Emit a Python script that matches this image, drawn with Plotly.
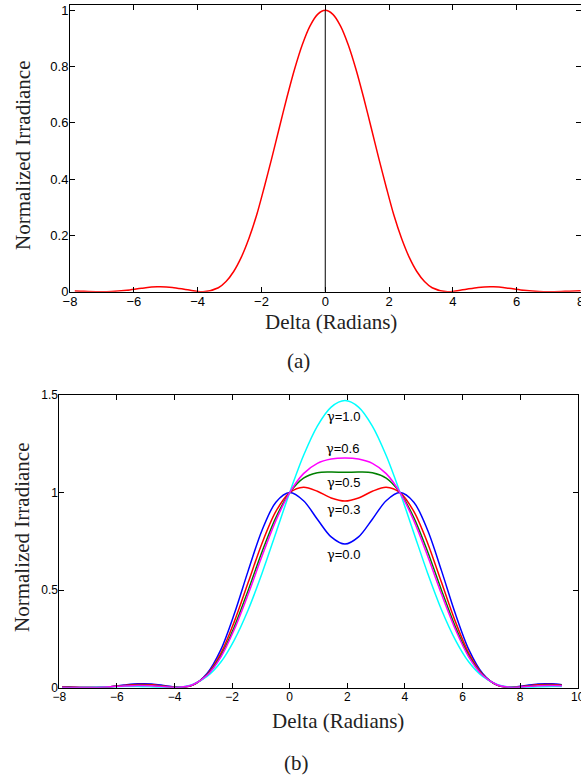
import plotly.graph_objects as go

W, H = 581, 779

# ---- (a) single-aperture irradiance pattern ----
delta_a = [-7.85, -7.66, -7.18, -6.70, -6.22, -5.75, -5.27, -4.79, -4.31, -3.83,
           -3.35, -3.11, -2.87, -2.63, -2.39, -2.15, -1.92, -1.68, -1.44, -1.20,
           -0.96, -0.72, -0.48, -0.24, 0.0,
           0.24, 0.48, 0.72, 0.96, 1.20, 1.44, 1.68, 1.92, 2.15, 2.39,
           2.63, 2.87, 3.11, 3.35, 3.83, 4.31, 4.79,
           5.27, 5.75, 6.22, 6.70, 7.18, 7.66, 8.14]
irr_a = [0.0028, 0.0020, 0.0002, 0.0008, 0.0053, 0.0123, 0.0172, 0.0153, 0.0066, 0.0000,
         0.0142, 0.0363, 0.0719, 0.1228, 0.1899, 0.2723, 0.3679, 0.4730, 0.5828, 0.6911,
         0.7916, 0.8778, 0.9441, 0.9858, 1.0000,
         0.9858, 0.9441, 0.8778, 0.7916, 0.6911, 0.5828, 0.4730, 0.3679, 0.2723, 0.1899,
         0.1228, 0.0719, 0.0363, 0.0142, 0.0000, 0.0066, 0.0153,
         0.0172, 0.0123, 0.0053, 0.0008, 0.0002, 0.0020, 0.0038]
center_x = [0, 0]
center_y = [0, 1]

# ---- (b) two-point pattern for several coherence values ----
delta_b = [-7.90, -7.66, -7.18, -6.70, -6.22, -5.75, -5.27, -4.79, -4.31, -3.83,
           -3.35, -2.87, -2.39, -1.92, -1.44, -0.96, -0.48, 0.0,
           0.48, 0.96, 1.44, 1.92, 2.39, 2.87, 3.35, 3.83, 4.31, 4.79,
           5.27, 5.75, 6.22, 6.70, 7.18, 7.66, 8.14, 8.62, 9.10, 9.45]
irr_g00 = [0.0044, 0.0036, 0.0012, 0.0011, 0.0053, 0.0132, 0.0198, 0.0193, 0.0104, 0.0020,
           0.0144, 0.0727, 0.1952, 0.3802, 0.6000, 0.8069, 0.9506, 1.0000,
           0.9582, 0.8634, 0.7726, 0.7358, 0.7726, 0.8634, 0.9582, 1.0000, 0.9506, 0.8069,
           0.6000, 0.3802, 0.1952, 0.0727, 0.0144, 0.0020, 0.0104, 0.0193, 0.0198, 0.0149]
irr_g03 = [0.0032, 0.0025, 0.0010, 0.0013, 0.0051, 0.0112, 0.0158, 0.0146, 0.0074, 0.0020,
           0.0153, 0.0682, 0.1761, 0.3398, 0.5399, 0.7408, 0.9034, 1.0000,
           1.0276, 1.0066, 0.9722, 0.9565, 0.9722, 1.0066, 1.0276, 1.0000, 0.9034, 0.7408,
           0.5399, 0.3398, 0.1761, 0.0682, 0.0153, 0.0020, 0.0074, 0.0146, 0.0158, 0.0124]
irr_g05 = [0.0024, 0.0018, 0.0008, 0.0015, 0.0049, 0.0099, 0.0131, 0.0115, 0.0054, 0.0020,
           0.0160, 0.0651, 0.1634, 0.3129, 0.4998, 0.6968, 0.8719, 1.0000,
           1.0739, 1.1020, 1.1053, 1.1036, 1.1053, 1.1020, 1.0739, 1.0000, 0.8719, 0.6968,
           0.4998, 0.3129, 0.1634, 0.0651, 0.0160, 0.0020, 0.0054, 0.0115, 0.0131, 0.0107]
irr_g06 = [0.0020, 0.0015, 0.0007, 0.0016, 0.0048, 0.0092, 0.0118, 0.0099, 0.0044, 0.0020,
           0.0163, 0.0636, 0.1571, 0.2994, 0.4798, 0.6748, 0.8562, 1.0000,
           1.0970, 1.1497, 1.1718, 1.1772, 1.1718, 1.1497, 1.0970, 1.0000, 0.8562, 0.6748,
           0.4798, 0.2994, 0.1571, 0.0636, 0.0163, 0.0020, 0.0044, 0.0099, 0.0118, 0.0099]
irr_g10 = [0.0003, 0.0000, 0.0004, 0.0020, 0.0045, 0.0065, 0.0064, 0.0037, 0.0004, 0.0021,
           0.0176, 0.0576, 0.1317, 0.2456, 0.3996, 0.5867, 0.7932, 1.0008,
           1.1896, 1.3405, 1.4379, 1.4715, 1.4379, 1.3405, 1.1896, 1.0008, 0.7932, 0.5867,
           0.3996, 0.2456, 0.1317, 0.0576, 0.0176, 0.0021, 0.0004, 0.0037, 0.0064, 0.0065]

gamma_values = ["1.0", "0.6", "0.5", "0.3", "0.0"]
gamma_label_x = [1.88, 1.85, 1.88, 1.88, 1.88]
gamma_label_y = [1.389, 1.227, 1.051, 0.915, 0.684]

series_b = [
    (irr_g00, "#0000ff"),
    (irr_g03, "#ff0000"),
    (irr_g05, "#008000"),
    (irr_g10, "#00ffff"),
    (irr_g06, "#ff00ff"),
]


def px_x(p):
    return p / W


def px_y(p):
    return 1 - p / H


fig = go.Figure()

fig.add_trace(go.Scatter(x=delta_a, y=irr_a, mode="lines",
                         line=dict(color="#ff0000", width=1.5, shape="spline", smoothing=0.8),
                         xaxis="x", yaxis="y", showlegend=False))
fig.add_trace(go.Scatter(x=center_x, y=center_y, mode="lines", line=dict(color="black", width=1),
                         xaxis="x", yaxis="y", showlegend=False))

for ys, col in series_b:
    fig.add_trace(go.Scatter(x=delta_b, y=ys, mode="lines",
                             line=dict(color=col, width=1.5, shape="spline", smoothing=0.9),
                             xaxis="x2", yaxis="y2", showlegend=False))


def axis_style(size, standoff):
    return dict(showline=True, linecolor="black", linewidth=1, mirror="allticks",
                ticks="inside", ticklen=5, tickcolor="black", tickwidth=1,
                showgrid=False, zeroline=False, ticklabeloverflow="allow",
                ticklabelstandoff=standoff, automargin=False,
                tickfont=dict(family="Liberation Sans, Arial, sans-serif", size=size, color="black"))


fig.update_layout(
    width=W, height=H,
    margin=dict(l=0, r=0, t=0, b=0),
    paper_bgcolor="white", plot_bgcolor="white",
    xaxis=dict(domain=[px_x(70), px_x(580.5)], range=[-8, 8], tickvals=list(range(-8, 9, 2)),
               anchor="y", **axis_style(13, -2)),
    yaxis=dict(domain=[px_y(291.7), px_y(5.3)], range=[0, 1.018], tickvals=[0, 0.2, 0.4, 0.6, 0.8, 1],
               anchor="x", **axis_style(13, -2)),
    xaxis2=dict(domain=[px_x(59.3), px_x(577.7)], range=[-8, 10], tickvals=list(range(-8, 11, 2)),
                anchor="y2", **axis_style(12, -2)),
    yaxis2=dict(domain=[px_y(687.7), px_y(395)], range=[0, 1.5], tickvals=[0, 0.5, 1, 1.5],
                anchor="x2", **axis_style(12, -2)),
)

serif = dict(family="Liberation Serif, Times New Roman, serif", size=21, color="#222222")
annotations = [
    dict(text="Delta (Radians)", x=px_x(331), y=px_y(322), xref="paper", yref="paper",
         showarrow=False, font=serif, xanchor="center", yanchor="middle"),
    dict(text="(a)", x=px_x(298), y=px_y(361), xref="paper", yref="paper",
         showarrow=False, font=serif, xanchor="center", yanchor="middle"),
    dict(text="Normalized Irradiance", x=px_x(23), y=px_y(156), xref="paper", yref="paper",
         showarrow=False, font=serif, textangle=-90, xanchor="center", yanchor="middle"),
    dict(text="Delta (Radians)", x=px_x(337.5), y=px_y(721), xref="paper", yref="paper",
         showarrow=False, font=serif, xanchor="center", yanchor="middle"),
    dict(text="(b)", x=px_x(296.7), y=px_y(763), xref="paper", yref="paper",
         showarrow=False, font=serif, xanchor="center", yanchor="middle"),
    dict(text="Normalized Irradiance", x=px_x(22), y=px_y(538), xref="paper", yref="paper",
         showarrow=False, font=serif, textangle=-90, xanchor="center", yanchor="middle"),
]
for val, lx, ly in zip(gamma_values, gamma_label_x, gamma_label_y):
    label = "<span style='font-family:DejaVu Serif'>γ</span>=" + val
    annotations.append(dict(text=label, x=lx, y=ly, xref="x2", yref="y2", showarrow=False,
                            font=dict(family="Liberation Sans, Arial, sans-serif", size=13, color="black"),
                            xanchor="center", yanchor="middle"))
fig.update_layout(annotations=annotations)

fig.write_html("out.html")
